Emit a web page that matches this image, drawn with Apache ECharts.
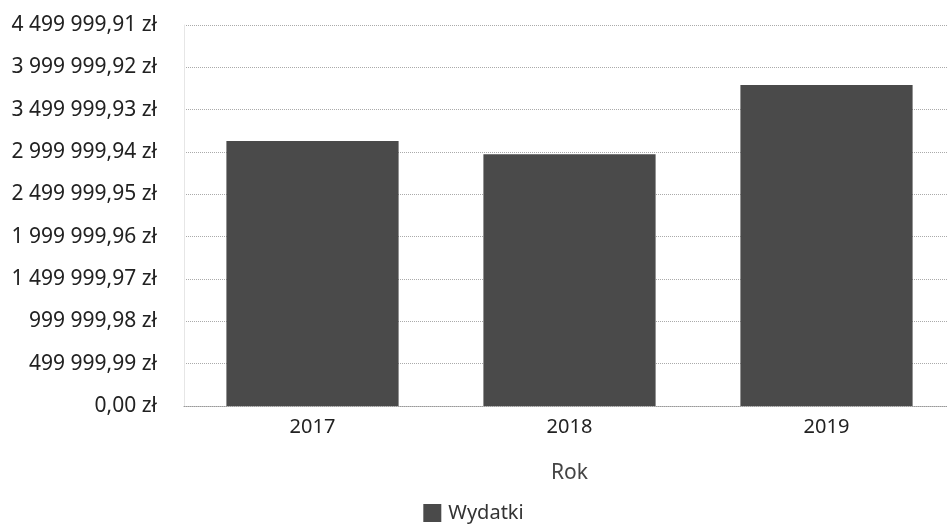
<!DOCTYPE html>
<html>
<head>
<meta charset="utf-8">
<script src="https://cdn.jsdelivr.net/npm/echarts@6/dist/echarts.min.js"></script>
<style>
html,body{margin:0;padding:0;background:#fff;}
#c{width:947px;height:527px;}
</style>
</head>
<body>
<div id="c"></div>
<script>
var categories = ['2017', '2018', '2019'];
var wydatki = [3130000, 2973000, 3790000];
var yMax = 4499999.91;
var yInterval = 499999.99;
var seriesName = 'Wydatki';
var xAxisName = 'Rok';

function fmtPLN(v) {
  var s = Math.abs(v).toFixed(2);
  var parts = s.split('.');
  var intPart = parts[0].replace(/\B(?=(\d{3})+(?!\d))/g, ' ');
  return intPart + ',' + parts[1] + ' zł';
}

var chart = echarts.init(document.getElementById('c'));
chart.setOption({
  animation: false,
  textStyle: { fontFamily: 'Noto Sans' },
  grid: { left: 184, width: 771, top: 25, bottom: 121, outerBoundsMode: 'none', containLabel: false },
  legend: {
    top: 498,
    left: 'center',
    icon: 'rect',
    itemWidth: 18,
    itemHeight: 18,
    itemGap: 6,
    textStyle: { fontSize: 20, color: '#333', fontFamily: 'Noto Sans', padding: [0, 0, 0, 2] },
    data: [seriesName]
  },
  xAxis: {
    type: 'category',
    data: categories,
    name: xAxisName,
    nameLocation: 'middle',
    nameGap: 57,
    nameTextStyle: { fontSize: 21, color: '#444' },
    axisTick: { show: false },
    axisLine: { lineStyle: { color: '#999', type: 'dotted', width: 1 } },
    axisLabel: { fontSize: 20, color: '#222', margin: 11 }
  },
  yAxis: {
    type: 'value',
    min: 0,
    max: yMax,
    interval: yInterval,
    axisLine: { show: true, lineStyle: { color: '#e6e6e6', width: 1 } },
    axisTick: { show: false },
    axisLabel: {
      fontSize: 21,
      color: '#222',
      margin: 27,
      formatter: fmtPLN
    },
    splitLine: { lineStyle: { color: '#aaa', type: 'dotted', width: 1 } }
  },
  series: [{
    name: seriesName,
    type: 'bar',
    data: wydatki,
    barCategoryGap: '33%',
    itemStyle: { color: '#4a4a4a' }
  }]
});
</script>
</body>
</html>
